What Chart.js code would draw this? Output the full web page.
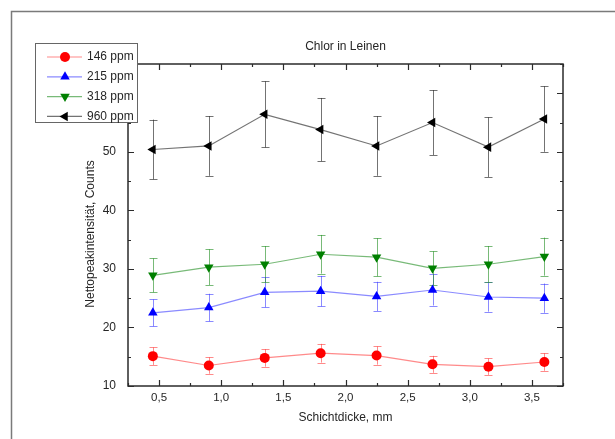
<!DOCTYPE html>
<html>
<head>
<meta charset="utf-8">
<script src="https://cdn.jsdelivr.net/npm/chart.js@4.4.1/dist/chart.umd.min.js"></script>
<style>
  html, body { margin: 0; padding: 0; background: #fff; }
  #wrap { width: 615px; height: 439px; position: relative; }
</style>
</head>
<body>
<div id="wrap"><canvas id="chlor" width="615" height="439"></canvas></div>
<script>
// Schichtdicke (mm) und Nettopeakintensität je Konzentration
const thickness = [0.45, 0.9, 1.35, 1.8, 2.25, 2.7, 3.15, 3.6];

const ppm146 = [15.1, 13.5, 14.8, 15.6, 15.2, 13.7, 13.3, 14.1];
const err146 = [1.5, 1.4, 1.5, 1.6, 1.55, 1.45, 1.4, 1.5];

const ppm215 = [22.5, 23.4, 26.0, 26.2, 25.3, 26.4, 25.2, 25.0];
const err215 = [2.3, 2.35, 2.55, 2.6, 2.5, 2.65, 2.5, 2.5];

const ppm318 = [28.9, 30.3, 30.8, 32.5, 32.0, 30.1, 30.8, 32.1];
const err318 = [2.9, 3.05, 3.1, 3.3, 3.25, 2.9, 3.1, 3.25];

const ppm960 = [50.4, 51.0, 56.4, 53.8, 51.0, 55.0, 50.8, 55.6];
const err960 = [5.1, 5.1, 5.65, 5.4, 5.1, 5.55, 5.1, 5.6];

const seriesLabels = ['146 ppm', '215 ppm', '318 ppm', '960 ppm'];

const xMajor = [0.5, 1.0, 1.5, 2.0, 2.5, 3.0, 3.5];
const xMinor = [0.25, 0.75, 1.25, 1.75, 2.25, 2.75, 3.25, 3.75];
const yMajor = [10, 20, 30, 40, 50, 60];
const yMinor = [15, 25, 35, 45, 55, 65];

const FONT = '"Liberation Sans", Arial, sans-serif';
const TEXT = '#262626';

const styles = [
  { marker: '#ff0000', line: 'rgba(255,60,60,0.6)', pointStyle: 'circle', rotation: 0, radius: 5 },
  { marker: '#0000ff', line: 'rgba(60,60,255,0.6)', pointStyle: 'triangle', rotation: 0, radius: 5.5 },
  { marker: '#008000', line: 'rgba(30,140,30,0.6)', pointStyle: 'triangle', rotation: 180, radius: 5.5 },
  { marker: '#000000', line: 'rgba(40,40,40,0.65)', pointStyle: 'triangle', rotation: 270, radius: 5.5 }
];

const values = [ppm146, ppm215, ppm318, ppm960];
const errors = [err146, err215, err318, err960];

const toPoints = ys => thickness.map((x, i) => ({ x: x, y: ys[i] }));

const datasets = values.map((ys, i) => ({
  label: seriesLabels[i],
  data: toPoints(ys),
  showLine: true,
  borderColor: styles[i].line,
  borderWidth: 1.2,
  backgroundColor: styles[i].marker,
  pointBackgroundColor: styles[i].marker,
  pointBorderColor: styles[i].marker,
  pointBorderWidth: 0,
  pointStyle: styles[i].pointStyle,
  rotation: styles[i].rotation,
  pointRadius: styles[i].radius,
  errors: errors[i],
  tension: 0
}));

const comma = v => v.toFixed(1).replace('.', ',');

// Rahmen, Fehlerbalken, Innen-Ticks, Achsentitel und Legende
const decor = {
  id: 'decor',
  beforeDraw(chart) {
    const ctx = chart.ctx;
    ctx.save();
    ctx.strokeStyle = '#7a7a7a';
    ctx.lineWidth = 1.5;
    ctx.beginPath();
    ctx.moveTo(11.5, 445);
    ctx.lineTo(11.5, 11.5);
    ctx.lineTo(620, 11.5);
    ctx.stroke();
    ctx.restore();
  },
  beforeDatasetsDraw(chart) {
    const ctx = chart.ctx;
    const xs = chart.scales.x, ys = chart.scales.y;
    ctx.save();
    ctx.lineWidth = 1;
    chart.data.datasets.forEach((ds, i) => {
      ctx.strokeStyle = styles[i].line;
      ds.data.forEach((p, j) => {
        const e = ds.errors[j];
        const px = Math.round(xs.getPixelForValue(p.x)) + 0.5;
        const top = ys.getPixelForValue(p.y + e);
        const bot = ys.getPixelForValue(p.y - e);
        ctx.beginPath();
        ctx.moveTo(px, top); ctx.lineTo(px, bot);
        ctx.moveTo(px - 4, Math.round(top) + 0.5); ctx.lineTo(px + 4, Math.round(top) + 0.5);
        ctx.moveTo(px - 4, Math.round(bot) + 0.5); ctx.lineTo(px + 4, Math.round(bot) + 0.5);
        ctx.stroke();
      });
    });
    ctx.restore();
  },
  afterDraw(chart) {
    const ctx = chart.ctx;
    const a = chart.chartArea;
    const xs = chart.scales.x, ys = chart.scales.y;
    ctx.save();

    // Achsenrahmen
    ctx.strokeStyle = '#2b2b2b';
    ctx.lineWidth = 1.5;
    ctx.strokeRect(a.left, a.top, a.right - a.left, a.bottom - a.top);

    // Ticks nach innen, auf allen vier Seiten
    ctx.lineWidth = 1.2;
    ctx.beginPath();
    const xt = (vals, len) => vals.forEach(v => {
      const px = Math.round(xs.getPixelForValue(v)) + 0.5;
      ctx.moveTo(px, a.bottom); ctx.lineTo(px, a.bottom - len);
      ctx.moveTo(px, a.top); ctx.lineTo(px, a.top + len);
    });
    const yt = (vals, len) => vals.forEach(v => {
      const py = Math.round(ys.getPixelForValue(v)) + 0.5;
      ctx.moveTo(a.left, py); ctx.lineTo(a.left + len, py);
      ctx.moveTo(a.right, py); ctx.lineTo(a.right - len, py);
    });
    xt(xMajor, 6); xt(xMinor, 3);
    yt(yMajor, 6); yt(yMinor, 3);
    ctx.stroke();

    // Titel und Achsentitel
    ctx.fillStyle = TEXT;
    ctx.font = '12px ' + FONT;
    ctx.textAlign = 'center';
    ctx.textBaseline = 'middle';
    const cx = (a.left + a.right) / 2;
    ctx.fillText('Chlor in Leinen', cx, 47);
    ctx.fillText('Schichtdicke, mm', cx, 418);
    ctx.save();
    ctx.translate(91, 234);
    ctx.rotate(-Math.PI / 2);
    ctx.fillText('Nettopeakintensität, Counts', 0, 0);
    ctx.restore();

    // Legende
    const L = { x: 35, y: 43, w: 102, h: 79 };
    ctx.fillStyle = '#fff';
    ctx.fillRect(L.x, L.y, L.w, L.h);
    ctx.strokeStyle = '#666';
    ctx.lineWidth = 1;
    ctx.strokeRect(L.x + 0.5, L.y + 0.5, L.w, L.h);
    ctx.textAlign = 'left';
    seriesLabels.forEach((lab, i) => {
      const ry = 57 + i * 19.8;
      ctx.strokeStyle = styles[i].line;
      ctx.lineWidth = 1.2;
      ctx.beginPath();
      ctx.moveTo(47, ry); ctx.lineTo(82, ry);
      ctx.stroke();
      ctx.fillStyle = styles[i].marker;
      Chart.helpers.drawPoint(ctx, {
        pointStyle: styles[i].pointStyle,
        rotation: styles[i].rotation,
        radius: styles[i].radius,
        borderWidth: 0
      }, 65, ry);
      ctx.fillStyle = TEXT;
      ctx.fillText(lab, 87, ry);
    });
    ctx.restore();
  }
};

new Chart(document.getElementById('chlor'), {
  type: 'scatter',
  data: { datasets: datasets },
  options: {
    responsive: false,
    animation: false,
    layout: { padding: { left: 0, top: 64, right: 52, bottom: 0 } },
    plugins: { legend: { display: false }, tooltip: { enabled: false } },
    scales: {
      x: {
        type: 'linear',
        min: 0.25,
        max: 3.75,
        grid: { display: false },
        border: { display: false },
        afterBuildTicks: s => { s.ticks = xMajor.map(v => ({ value: v })); },
        afterFit: s => { s.height = 53; },
        ticks: {
          padding: -3,
          color: TEXT,
          font: { family: FONT, size: 11.5 },
          maxRotation: 0,
          callback: v => comma(v)
        }
      },
      y: {
        min: 10,
        max: 65,
        grid: { display: false },
        border: { display: false },
        afterBuildTicks: s => { s.ticks = yMajor.map(v => ({ value: v })); },
        afterFit: s => { s.width = 128; },
        ticks: {
          padding: 4,
          color: TEXT,
          font: { family: FONT, size: 12 },
          callback: v => String(v)
        }
      }
    }
  },
  plugins: [decor]
});
</script>
</body>
</html>
